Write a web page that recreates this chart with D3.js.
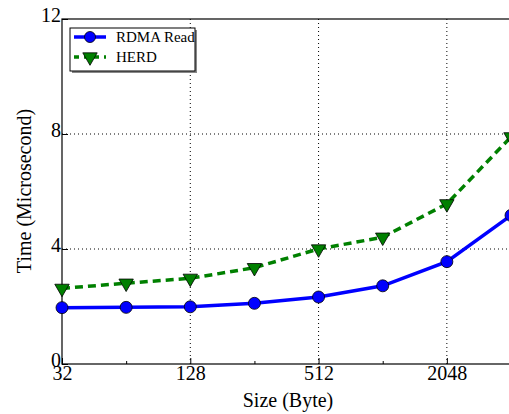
<!DOCTYPE html>
<html>
<head>
<meta charset="utf-8">
<script src="https://cdn.jsdelivr.net/npm/d3@7"></script>
<style>
  body { margin: 0; background: #fff; }
</style>
</head>
<body>
<div id="chart"></div>
<script>
// Data
const sizes = [32, 64, 128, 256, 512, 1024, 2048, 4096];
const rdmaRead = [1.96, 1.97, 1.99, 2.11, 2.33, 2.72, 3.56, 5.17];
const herd = [2.63, 2.81, 2.98, 3.35, 4.0, 4.41, 5.57, 7.9];
const xTicks = [32, 128, 512, 2048];
const xMinor = [64, 256, 1024];
const yTicks = [0, 4, 8, 12];

const FONT = "'Liberation Serif', serif";
const W = 509, H = 414;
const margin = {top: 19, right: -2, bottom: 50, left: 62},
  width = W - margin.left - margin.right,
  height = H - margin.top - margin.bottom;

const svg = d3.select("#chart")
  .append("svg")
    .attr("width", W)
    .attr("height", H);

const g = svg.append("g")
  .attr("transform", "translate(" + margin.left + "," + margin.top + ")");

const x = d3.scaleLog().base(2)
  .domain([32, 4096])
  .range([0, width]);

const y = d3.scaleLinear()
  .domain([0, 12])
  .range([height, 0]);

// Grid lines (dotted)
g.append("g")
  .selectAll("line")
  .data(xTicks.slice(1))
  .enter().append("line")
    .attr("x1", d => x(d)).attr("x2", d => x(d))
    .attr("y1", 0).attr("y2", height)
    .attr("stroke", "#000")
    .attr("stroke-width", 1)
    .attr("stroke-dasharray", "1,3");
g.append("g")
  .selectAll("line")
  .data(yTicks.slice(1, -1))
  .enter().append("line")
    .attr("x1", 0).attr("x2", width)
    .attr("y1", d => y(d)).attr("y2", d => y(d))
    .attr("stroke", "#000")
    .attr("stroke-width", 1)
    .attr("stroke-dasharray", "1,3");

// Bottom axis (ticks inward)
const xAxis = g.append("g")
  .attr("transform", "translate(0," + height + ")")
  .call(d3.axisBottom(x).tickValues(xTicks).tickSize(-6).tickFormat(d3.format("d")));
xAxis.select(".domain").remove();
xAxis.selectAll("text")
  .style("font-family", FONT).style("font-size", "20px")
  .attr("fill", "#000").attr("dy", "0.71em").attr("y", 2);
g.append("g")
  .attr("transform", "translate(0," + height + ")")
  .call(d3.axisBottom(x).tickValues(xMinor).tickSize(-3).tickFormat(""))
  .select(".domain").remove();

// Left axis (ticks inward)
const yAxis = g.append("g")
  .call(d3.axisLeft(y).tickValues(yTicks).tickSize(-6).tickPadding(1));
yAxis.select(".domain").remove();
yAxis.selectAll("text")
  .style("font-family", FONT).style("font-size", "20px")
  .attr("fill", "#000").attr("dy", "0.1em");

// Frame
g.append("rect")
  .attr("x", 0).attr("y", 0)
  .attr("width", width).attr("height", height)
  .attr("fill", "none")
  .attr("stroke", "#000")
  .attr("stroke-width", 1.2);

// Lines
const line = d3.line()
  .x((d, i) => x(sizes[i]))
  .y(d => y(d));

g.append("path")
  .datum(herd)
  .attr("fill", "none")
  .attr("stroke", "#008000")
  .attr("stroke-width", 3.5)
  .attr("stroke-dasharray", "8,5")
  .attr("d", line);

g.append("path")
  .datum(rdmaRead)
  .attr("fill", "none")
  .attr("stroke", "#0000ff")
  .attr("stroke-width", 3.5)
  .attr("d", line);

// Markers
const tri = d3.symbol().type(d3.symbolTriangle).size(90);
g.append("g")
  .selectAll("path")
  .data(herd)
  .enter().append("path")
    .attr("d", tri)
    .attr("transform", (d, i) => "translate(" + x(sizes[i]) + "," + y(d) + ") rotate(180)")
    .attr("fill", "#008000")
    .attr("stroke", "#000")
    .attr("stroke-width", 0.8);

g.append("g")
  .selectAll("circle")
  .data(rdmaRead)
  .enter().append("circle")
    .attr("cx", (d, i) => x(sizes[i]))
    .attr("cy", d => y(d))
    .attr("r", 6)
    .attr("fill", "#0000ff")
    .attr("stroke", "#000")
    .attr("stroke-width", 0.8);

// Axis labels
svg.append("text")
  .attr("x", 288)
  .attr("y", 407)
  .attr("text-anchor", "middle")
  .style("font-family", FONT).style("font-size", "20px")
  .text("Size (Byte)");

svg.append("text")
  .attr("transform", "translate(31,191) rotate(-90)")
  .attr("text-anchor", "middle")
  .style("font-family", FONT).style("font-size", "20px")
  .text("Time (Microsecond)");

// Legend
const lg = svg.append("g").attr("transform", "translate(70,28)");
lg.append("rect")
  .attr("x", 2).attr("y", 2)
  .attr("width", 125).attr("height", 43)
  .attr("fill", "#888");
lg.append("rect")
  .attr("width", 125).attr("height", 43)
  .attr("fill", "#fff")
  .attr("stroke", "#000")
  .attr("stroke-width", 1);

const legendItems = [
  {name: "RDMA Read", color: "#0000ff", dash: null, marker: "circle"},
  {name: "HERD", color: "#008000", dash: "5,5", marker: "tri"}
];
legendItems.forEach((it, i) => {
  const yy = 9 + i * 20;
  lg.append("line")
    .attr("x1", 4).attr("x2", 36)
    .attr("y1", yy).attr("y2", yy)
    .attr("stroke", it.color)
    .attr("stroke-width", 3.5)
    .attr("stroke-dasharray", it.dash);
  if (it.marker === "circle") {
    lg.append("circle")
      .attr("cx", 20).attr("cy", yy).attr("r", 5.5)
      .attr("fill", it.color).attr("stroke", "#000").attr("stroke-width", 0.8);
  } else {
    lg.append("path")
      .attr("d", tri)
      .attr("transform", "translate(20," + yy + ") rotate(180)")
      .attr("fill", it.color).attr("stroke", "#000").attr("stroke-width", 0.8);
  }
  lg.append("text")
    .attr("x", 46).attr("y", yy + 5)
    .style("font-family", FONT).style("font-size", "15px")
    .text(it.name);
});
</script>
</body>
</html>
